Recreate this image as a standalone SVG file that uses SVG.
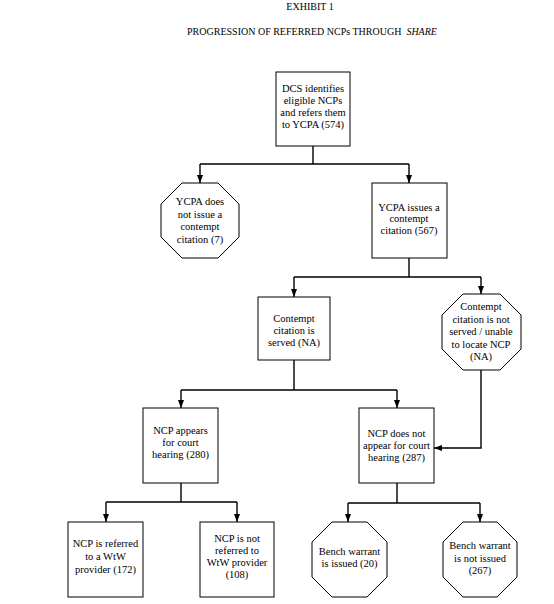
<svg xmlns="http://www.w3.org/2000/svg" width="554" height="604" viewBox="0 0 554 604">
<style>
text{font-family:"Liberation Serif","Times New Roman",serif;font-size:10.5px;fill:#000;text-anchor:middle}
.title{font-size:10px}
.node{fill:#fff;stroke:#000;stroke-width:1}
.conn{fill:none;stroke:#000;stroke-width:1.4}
</style>
<defs>
<marker id="ah" markerUnits="userSpaceOnUse" markerWidth="8" markerHeight="6" viewBox="0 0 8 6" refX="8" refY="3" orient="auto">
<path d="M0,0 L8,3 L0,6 z" fill="#000"/>
</marker>
</defs>
<rect width="554" height="604" fill="#fff"/>
<g id="title">
<text class="title" x="310" y="10">EXHIBIT 1</text>
<text class="title" x="312" y="35" xml:space="preserve">PROGRESSION OF REFERRED NCPs THROUGH  <tspan font-style="italic">SHARE</tspan></text>
</g>
<g id="connectors">
<path class="conn" d="M313,146 V164 M200,164 H409"/>
<path class="conn" d="M200,164 V183" marker-end="url(#ah)"/>
<path class="conn" d="M409,164 V183" marker-end="url(#ah)"/>
<path class="conn" d="M409,258 V277 M294,277 H481"/>
<path class="conn" d="M294,277 V297" marker-end="url(#ah)"/>
<path class="conn" d="M481,277 V294" marker-end="url(#ah)"/>
<path class="conn" d="M294,360 V390 M181,390 H397"/>
<path class="conn" d="M181,390 V408" marker-end="url(#ah)"/>
<path class="conn" d="M397,390 V408" marker-end="url(#ah)"/>
<path class="conn" d="M481,370 V448 H434" marker-end="url(#ah)"/>
<path class="conn" d="M181,483 V502 M106,502 H237"/>
<path class="conn" d="M106,502 V522" marker-end="url(#ah)"/>
<path class="conn" d="M237,502 V522" marker-end="url(#ah)"/>
<path class="conn" d="M397,483 V503 M348,503 H480"/>
<path class="conn" d="M348,503 V522" marker-end="url(#ah)"/>
<path class="conn" d="M480,503 V522" marker-end="url(#ah)"/>
</g>
<g id="n1">
<rect class="node" x="276" y="72" width="74" height="74"/>
<text x="313" y="92">DCS identifies</text>
<text x="313" y="104">eligible NCPs</text>
<text x="313" y="116">and refers them</text>
<text x="313" y="128">to YCPA (574)</text>
</g>
<g id="n2">
<polygon class="node" points="182,183 218,183 239,204 239,237 218,258 182,258 161,237 161,204"/>
<text x="200" y="205">YCPA does</text>
<text x="200" y="218">not issue a</text>
<text x="200" y="230">contempt</text>
<text x="200" y="243">citation (7)</text>
</g>
<g id="n3">
<rect class="node" x="372" y="183" width="75" height="75"/>
<text x="409" y="211">YCPA issues a</text>
<text x="409" y="222">contempt</text>
<text x="409" y="234">citation (567)</text>
</g>
<g id="n4">
<rect class="node" x="258" y="297" width="72" height="63"/>
<text x="294" y="322">Contempt</text>
<text x="294" y="334">citation is</text>
<text x="294" y="346">served (NA)</text>
</g>
<g id="n5">
<polygon class="node" points="463,294 500,294 521,315 521,349 500,370 463,370 442,349 442,315"/>
<text x="481" y="310">Contempt</text>
<text x="481" y="323">citation is not</text>
<text x="481" y="335">served / unable</text>
<text x="481" y="348">to locate NCP</text>
<text x="481" y="360">(NA)</text>
</g>
<g id="n6">
<rect class="node" x="143" y="408" width="75" height="75"/>
<text x="180.5" y="434">NCP appears</text>
<text x="180.5" y="446">for court</text>
<text x="180.5" y="458">hearing (280)</text>
</g>
<g id="n7">
<rect class="node" x="359" y="408" width="75" height="75"/>
<text x="396.5" y="437">NCP does not</text>
<text x="396.5" y="449">appear for court</text>
<text x="396.5" y="461">hearing (287)</text>
</g>
<g id="n8">
<rect class="node" x="68" y="522" width="75" height="75"/>
<text x="105.5" y="547">NCP is referred</text>
<text x="105.5" y="560">to a WtW</text>
<text x="105.5" y="573">provider (172)</text>
</g>
<g id="n9">
<rect class="node" x="200" y="522" width="74" height="75"/>
<text x="237" y="542">NCP is not</text>
<text x="237" y="554">referred to</text>
<text x="237" y="566">WtW provider</text>
<text x="237" y="578">(108)</text>
</g>
<g id="n10">
<polygon class="node" points="332,522 367,522 387,542 387,577 367,597 332,597 312,577 312,542"/>
<text x="349.5" y="555">Bench warrant</text>
<text x="349.5" y="567">is issued (20)</text>
</g>
<g id="n11">
<polygon class="node" points="463,522 497,522 517,542 517,577 497,597 463,597 443,577 443,542"/>
<text x="480" y="549">Bench warrant</text>
<text x="480" y="562">is not issued</text>
<text x="480" y="574">(267)</text>
</g>
</svg>
